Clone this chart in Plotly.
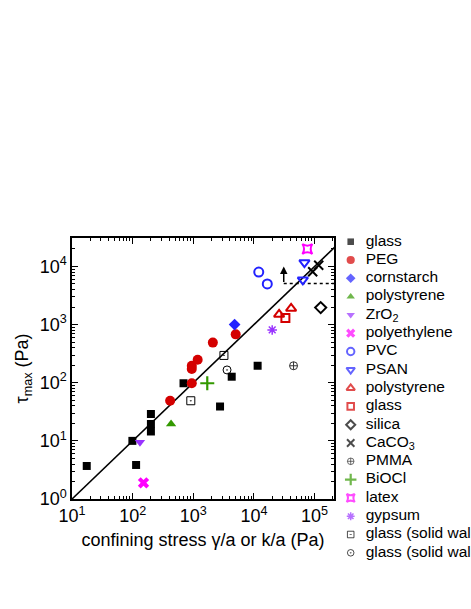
import math
import plotly.graph_objects as go

# ---------------- data ----------------
glass_x = [17.5, 99, 114, 200, 200, 200, 690, 2760, 4300, 11500]
glass_y = [3.7, 10, 3.85, 29, 19.5, 14.5, 98, 39, 127, 196]
peg_x = [415, 944, 944, 944, 1180, 2100, 5000]
peg_y = [49, 98, 173, 196, 248, 490, 680]
cornstarch_x = [4800]
cornstarch_y = [1000]
polystyrene_x = [430]
polystyrene_y = [19.5]
zro2_x = [132]
zro2_y = [9.5]
polyethylene_x = [151]
polyethylene_y = [1.9]
pvc_x = [12000, 16600]
pvc_y = [8000, 5000]
psan_x = [68000, 64000]
psan_y = [11700, 5900]
polystyrene2_x = [26000, 41000]
polystyrene2_y = [1500, 1900]
glass2_x = [33000]
glass2_y = [1300]
silica_x = [126000]
silica_y = [1960]
caco3_x = [93000, 117000]
caco3_y = [8100, 10500]
pmma_x = [45000]
pmma_y = [196]
biocl_x = [1700]
biocl_y = [98]
latex_x = [76000]
latex_y = [20000]
gypsum_x = [20000]
gypsum_y = [810]
glass_sw1_x = [910, 3200]
glass_sw1_y = [49, 295]
glass_sw2_x = [3600]
glass_sw2_y = [166]

fit_x = [10, 3e5]
fit_slope = 0.1
bound_x = 3.1e4
bound_y = 5.1e3
bound_arrow_top = 1e4

x_tick_vals = [1e1, 1e2, 1e3, 1e4, 1e5]
x_tick_text = ["10<sup>1</sup>", "10<sup>2</sup>", "10<sup>3</sup>", "10<sup>4</sup>", "10<sup>5</sup>"]
y_tick_vals = [1e0, 1e1, 1e2, 1e3, 1e4]
y_tick_text = ["10<sup>0</sup>", "10<sup>1</sup>", "10<sup>2</sup>", "10<sup>3</sup>", "10<sup>4</sup>"]

legend_labels = ["glass", "PEG", "cornstarch", "polystyrene", "ZrO<sub>2</sub>", "polyethylene",
                 "PVC", "PSAN", "polystyrene", "glass", "silica", "CaCO<sub>3</sub>", "PMMA",
                 "BiOCl", "latex", "gypsum", "glass (solid walls)", "glass (solid walls)"]

# ---------------- styles ----------------
RED = "#d40000"
BLUE = "#2222ff"
GREEN = "#339900"
PURPLE = "#9933ff"
MAG = "#ff00ff"
BLK = "#000000"

series = [
    (glass_x, glass_y, "square", BLK, 8, 0),
    (peg_x, peg_y, "circle", RED, 10, 0),
    (cornstarch_x, cornstarch_y, "diamond", BLUE, 9, 0),
    (polystyrene_x, polystyrene_y, "triangle-up", GREEN, 9, 0),
    (zro2_x, zro2_y, "triangle-down", PURPLE, 9, 0),
    (polyethylene_x, polyethylene_y, "x", MAG, 10, 0),
    (pvc_x, pvc_y, "circle-open", BLUE, 9, 2),
    (psan_x, psan_y, "triangle-down-open", BLUE, 9, 2),
    (polystyrene2_x, polystyrene2_y, "triangle-up-open", RED, 9, 2),
    (glass2_x, glass2_y, "square-open", RED, 8, 2),
    (silica_x, silica_y, "diamond-open", BLK, 8.5, 2),
    (caco3_x, caco3_y, "x-thin-open", BLK, 9, 2),
    (pmma_x, pmma_y, "circle-cross-open", "#333333", 8, 1),
    (biocl_x, biocl_y, "cross-thin-open", GREEN, 10, 2.2),
    (latex_x, latex_y, "star-square-open", MAG, 9, 2),
    (gypsum_x, gypsum_y, "asterisk-open", PURPLE, 8, 1.5),
    (glass_sw1_x, glass_sw1_y, "square-open-dot", BLK, 8, 1),
    (glass_sw2_x, glass_sw2_y, "circle-open-dot", BLK, 8, 1),
]

FONT = "Liberation Sans, Arial, Helvetica, sans-serif"
W, H = 471, 609
L, R, T, B = 72, 334, 238, 499

fig = go.Figure()

# fit line
fig.add_trace(go.Scatter(x=fit_x, y=[v * fit_slope for v in fit_x], mode="lines",
                         line=dict(color="black", width=1.6), showlegend=False,
                         hoverinfo="skip"))
# lower-bound dotted line
fig.add_trace(go.Scatter(x=[bound_x, fit_x[1]], y=[bound_y, bound_y], mode="lines",
                         line=dict(color="black", width=1.5, dash="dot"), showlegend=False,
                         hoverinfo="skip"))

for xs, ys, sym, col, size, lw in series:
    fig.add_trace(go.Scatter(x=xs, y=ys, mode="markers", showlegend=False,
                             marker=dict(symbol=sym, color=col, size=size,
                                         line=dict(width=lw, color=col))))

fig.add_annotation(x=math.log10(bound_x), y=math.log10(bound_arrow_top),
                   ax=math.log10(bound_x), ay=math.log10(bound_y),
                   xref="x", yref="y", axref="x", ayref="y", text="",
                   showarrow=True, arrowhead=2, arrowsize=1, arrowwidth=1.5,
                   arrowcolor="black")

# legend drawn in its own hidden axes (entry index -> row)
idx = list(range(len(legend_labels)))
fig.add_trace(go.Scatter(
    x=[0] * len(idx), y=idx, mode="markers", xaxis="x2", yaxis="y2", showlegend=False,
    cliponaxis=False, hoverinfo="skip",
    marker=dict(symbol=[s[2] for s in series], color=[s[3] for s in series],
                size=[s[4] * 0.82 for s in series],
                line=dict(width=[s[5] for s in series], color=[s[3] for s in series]))))
fig.add_trace(go.Scatter(
    x=[15] * len(idx), y=idx, mode="text", text=legend_labels, textposition="middle right",
    textfont=dict(family=FONT, size=15.5, color="black"), xaxis="x2", yaxis="y2",
    showlegend=False, cliponaxis=False, hoverinfo="skip"))

axis_common = dict(type="log", showline=True, linecolor="black", linewidth=1.6,
                   mirror="ticks", ticks="inside", ticklen=6, tickwidth=1, tickcolor="black",
                   showgrid=False, zeroline=False, tickmode="array",
                   tickfont=dict(family=FONT, size=18, color="black"), automargin=False)

x_minor = [k * 10 ** d for d in range(1, 6) for k in range(2, 10)]
y_minor = [k * 10 ** d for d in range(0, 5) for k in range(2, 10)]

fig.update_layout(
    width=W, height=H, margin=dict(l=0, r=0, t=0, b=0),
    paper_bgcolor="white", plot_bgcolor="rgba(0,0,0,0)",
    font=dict(family=FONT, size=18, color="black"),
    xaxis=dict(axis_common, domain=[L / W, R / W], range=[1, 5.32],
               tickvals=x_tick_vals, ticktext=x_tick_text,
               minor=dict(tickmode="array", tickvals=x_minor, ticks="inside", ticklen=3,
                          tickcolor="black", showgrid=False),
               title=dict(text="confining stress γ/a or k/a (Pa)", standoff=8,
                          font=dict(family=FONT, size=18))),
    yaxis=dict(axis_common, domain=[(H - B) / H, (H - T) / H], range=[0, 4.49],
               tickvals=y_tick_vals, ticktext=y_tick_text,
               minor=dict(tickmode="array", tickvals=y_minor, ticks="inside", ticklen=3,
                          tickcolor="black", showgrid=False),
               title=dict(text="τ<sub>max</sub> (Pa)", standoff=6,
                          font=dict(family=FONT, size=18))),
    xaxis2=dict(domain=[0, 1], range=[-350.7, W - 350.7], visible=False, anchor="y2",
                fixedrange=True),
    yaxis2=dict(domain=[0, 1], range=[(H - 241.7) / 18.3, -241.7 / 18.3], visible=False,
                anchor="x2", fixedrange=True),
)

fig.write_html("out.html",
               config={"displayModeBar": False, "staticPlot": True},
               post_script="document.body.style.margin='0px';"
                           "document.body.style.overflow='hidden';")
